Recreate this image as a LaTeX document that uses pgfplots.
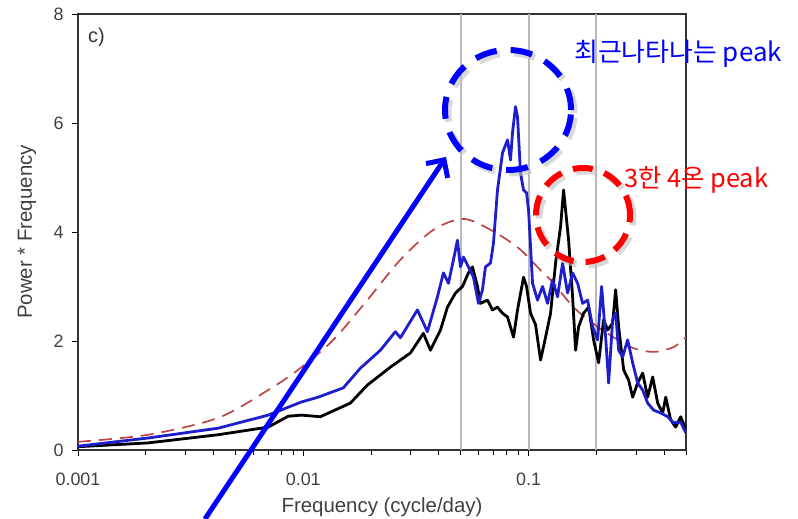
\documentclass[border=0pt]{standalone}
\usepackage{pgfplots}
\pgfplotsset{compat=1.18}
\usepackage{pgfplotstable}
\usepackage{fontspec}
\setmainfont{Liberation Sans}
\newfontfamily\kr{Noto Sans CJK KR}
\usetikzlibrary{arrows.meta}

\definecolor{bl}{RGB}{30,30,205}
\definecolor{rd}{RGB}{190,70,70}
\definecolor{gl}{RGB}{185,185,185}

\pgfplotstableread{
f v
0.001 0.06
0.002047 0.13
0.004190 0.28
0.006990 0.42
0.008577 0.62
0.009798 0.64
0.011900 0.61
0.016177 0.86
0.019250 1.19
0.024359 1.52
0.029892 1.78
0.034145 2.14
0.036681 1.83
0.040634 2.20
0.043652 2.62
0.047376 2.88
0.050894 3.00
0.054117 3.25
0.056378 3.36
0.059338 3.00
0.061188 2.69
0.065732 2.75
0.069183 2.57
0.072817 2.62
0.076640 2.51
0.080665 2.44
0.085770 2.07
0.089352 2.57
0.095010 3.17
0.097973 3.00
0.10207 2.51
0.10743 2.30
0.11307 1.65
0.11900 2.07
0.12525 2.51
0.13183 3.43
0.13875 4.10
0.14307 4.77
0.14754 4.22
0.15059 3.85
0.15688 2.81
0.16177 1.83
0.16681 2.26
0.17557 2.51
0.18479 2.62
0.19448 2.02
0.20470 1.60
0.21544 2.39
0.22445 2.20
0.23623 2.33
0.24359 2.94
0.25119 2.26
0.26438 1.47
0.27826 1.28
0.28988 0.97
0.30510 1.23
0.32112 1.41
0.33798 0.97
0.35572 1.34
0.37440 0.86
0.39405 0.68
0.40634 0.97
0.42767 0.55
0.45013 0.42
0.47376 0.61
0.5 0.37
}\blackdata

\pgfplotstableread{
f v
0.001 0.07
0.002047 0.22
0.004190 0.40
0.006990 0.64
0.009798 0.88
0.011659 0.97
0.015058 1.14
0.017920 1.50
0.021990 1.83
0.025638 2.17
0.026984 2.06
0.032112 2.57
0.035572 2.17
0.039405 2.81
0.041901 3.25
0.044101 3.06
0.046416 3.49
0.048355 3.85
0.049863 3.36
0.051418 3.54
0.054117 3.36
0.056958 3.17
0.059948 2.69
0.062453 2.94
0.064400 3.36
0.067782 3.43
0.069897 3.80
0.072817 4.77
0.076640 5.45
0.080665 5.69
0.083176 5.32
0.084896 5.82
0.087543 6.30
0.089352 6.11
0.092137 5.08
0.095010 4.77
0.097973 4.72
0.1 4.40
0.10418 3.06
0.10965 2.75
0.11540 3.00
0.12146 2.69
0.12784 3.12
0.13455 2.81
0.14162 3.43
0.14905 2.88
0.15688 3.25
0.16511 3.06
0.17378 2.69
0.18291 2.75
0.19251 2.26
0.20261 2.02
0.21108 3.00
0.21990 2.07
0.22675 1.23
0.23623 2.39
0.24359 2.51
0.25119 1.83
0.26169 1.71
0.27542 2.02
0.28988 1.60
0.30510 1.23
0.32112 1.10
0.33798 0.86
0.35938 0.73
0.38607 0.68
0.41474 0.61
0.44101 0.50
0.47376 0.51
0.5 0.31
}\bluedata

\pgfplotstableread{
f v
0.001 0.15
0.002047 0.28
0.004190 0.59
0.006990 1.10
0.009698 1.50
0.013594 2.02
0.019250 2.75
0.026984 3.49
0.037825 4.04
0.051418 4.24
0.067782 4.04
0.089352 3.72
0.11307 3.30
0.12916 3.06
0.15849 2.62
0.20261 2.26
0.28401 1.89
0.35938 1.80
0.44101 1.89
0.5 2.07
}\reddata

\begin{document}
\begin{tikzpicture}[x=1bp,y=1bp]
\path[use as bounding box] (0,0) rectangle (798,519);
\begin{axis}[
  at={(78bp,69bp)}, anchor=south west,
  scale only axis, width=608bp, height=436bp,
  xmode=log, xmin=0.001, xmax=0.5, ymin=0, ymax=8,
  xtick={0.001,0.01,0.1},
  xticklabels={0.001,0.01,0.1},
  minor xtick={0.002,0.003,0.004,0.005,0.006,0.007,0.008,0.009,0.02,0.03,0.04,0.05,0.06,0.07,0.08,0.09,0.2,0.3,0.4,0.5},
  ytick={0,2,4,6,8},
  yticklabels={0,2,4,6,8},
  tick align=outside, tick pos=left,
  major tick length=6bp, minor tick length=5bp,
  every tick/.style={black, line width=0.9bp},
  axis line style={line width=1.2bp, black!80},
  ticklabel style={font=\fontsize{18}{21}\selectfont, text=black!75},
  xticklabel style={yshift=-13bp},
  yticklabel style={xshift=-5bp},
  xlabel={Frequency (cycle/day)}, ylabel={Power * Frequency},
  label style={font=\fontsize{20.5}{24}\selectfont, text=black!75},
  xlabel style={at={(axis description cs:0.5,-0.131)}, anchor=center},
  ylabel style={at={(axis description cs:-0.084,0.5)}, anchor=center},
]
\addplot[gl, line width=2bp] coordinates {(0.05,0) (0.05,8)};
\addplot[gl, line width=2bp] coordinates {(0.1,0) (0.1,8)};
\addplot[gl, line width=2bp] coordinates {(0.2,0) (0.2,8)};
\addplot[rd, line width=1.7bp, dash pattern=on 13bp off 8bp, smooth] table[x=f,y=v] {\reddata};
\addplot[black, line width=2.8bp, line join=round] table[x=f,y=v] {\blackdata};
\addplot[bl, line width=2.8bp, line join=round] table[x=f,y=v] {\bluedata};
\end{axis}
% panel label
\node[anchor=west, font=\fontsize{20}{22}\selectfont, text=black!80, inner sep=0] at (88,519-37) {c)};
% shadows
\draw[black!25, line width=7bp, dash pattern=on 22bp off 14bp, opacity=0.6] (511,519-113) ellipse (63 and 60);
\draw[black!25, line width=7bp, dash pattern=on 20bp off 12bp, opacity=0.6] (586,519-218) ellipse (47 and 47);
% circles
\draw[blue, line width=6bp, dash pattern=on 22bp off 14bp] (508,519-110) ellipse (63 and 60);
\draw[red, line width=6bp, dash pattern=on 20bp off 12bp] (583,519-215) ellipse (47 and 47);
% arrow
\draw[blue, line width=5bp, -{Straight Barb[length=13bp,width=26bp,line width=5bp]}] (205,0) -- (446,519-157);
% texts
\node[anchor=west, text=blue, font=\kr\fontsize{26}{28}\selectfont, inner sep=0] at (574,519-54) {최근나타나는 peak};
\node[anchor=west, text=red, font=\kr\fontsize{25.5}{28}\selectfont, inner sep=0] at (624,519-180) {3한 4온 peak};
\end{tikzpicture}
\end{document}
